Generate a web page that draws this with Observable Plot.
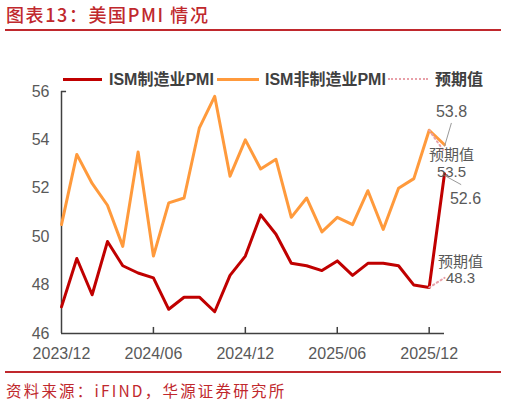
<!DOCTYPE html>
<html>
<head>
<meta charset="utf-8">
<script src="https://cdn.jsdelivr.net/npm/d3@7"></script>
<script src="https://cdn.jsdelivr.net/npm/@observablehq/plot@0.6"></script>
<style>
  html, body { margin: 0; padding: 0; background: #fff; }
  #wrap { position: relative; width: 506px; height: 406px; overflow: hidden;
          font-family: "Liberation Sans", Arial, "Noto Sans CJK SC", sans-serif; }
  #title { position: absolute; left: 6px; top: 3px; font-family: "Noto Sans CJK SC", sans-serif;
           font-size: 18px; font-weight: 500; color: #c0282d; letter-spacing: 1.6px; white-space: nowrap; line-height: 22px; }
  #tline { position: absolute; left: 5px; width: 496px; top: 29px; height: 2px; background: #c0282d; }
  #bline { position: absolute; left: 5px; width: 496px; top: 371px; height: 2px; background: #c0282d; }
  #foot { position: absolute; left: 6px; top: 380px; font-family: "Noto Sans CJK SC", sans-serif;
          font-size: 15.5px; color: #c0282d; letter-spacing: 2.2px; white-space: nowrap; line-height: 20px; }
  #chart { position: absolute; left: 0; top: 35px; }
  .lg { position: absolute; top: 70px; font-size: 16px; font-weight: bold; color: #404040; white-space: nowrap; line-height: 20px; }
  .sw { position: absolute; height: 0; }
</style>
</head>
<body>
<div id="wrap">
  <div id="title">图表13：美国PMI 情况</div>
  <div id="tline"></div>
  <div id="chart"></div>
  <div class="sw" style="left:63px;width:39px;top:78px;border-top:3px solid #c00000;"></div>
  <div class="lg" style="left:109px;">ISM制造业PMI</div>
  <div class="sw" style="left:217px;width:42px;top:78px;border-top:3px solid #ff9a3c;"></div>
  <div class="lg" style="left:265px;">ISM非制造业PMI</div>
  <div class="sw" style="left:388px;width:40px;top:78px;border-top:2px dotted #e8a0a8;"></div>
  <div class="lg" style="left:435px;">预期值</div>
  <div id="bline"></div>
  <div id="foot">资料来源：iFIND，华源证券研究所</div>
</div>
<script>
// Months from 2023/12 to 2026/01
const months = ["2023/12","2024/01","2024/02","2024/03","2024/04","2024/05","2024/06","2024/07","2024/08","2024/09","2024/10","2024/11","2024/12",
                "2025/01","2025/02","2025/03","2025/04","2025/05","2025/06","2025/07","2025/08","2025/09","2025/10","2025/11","2025/12","2026/01"];
const mfg = [47.1,49.1,47.6,49.8,48.8,48.5,48.3,47.0,47.5,47.5,46.9,48.4,49.2,
             50.9,50.1,48.9,48.8,48.6,49.0,48.4,48.9,48.9,48.8,48.0,47.9,52.6];
const services = [50.5,53.4,52.2,51.3,49.6,53.5,49.2,51.4,51.6,54.5,55.8,52.5,54.0,
                  52.8,53.2,50.8,51.6,50.2,50.8,50.5,51.9,50.3,52.0,52.4,54.4,53.8];
const mfgForecast = 48.3;
const servicesForecast = 53.5;
const tickLabels = ["2023/12","2024/06","2024/12","2025/06","2025/12"];
const yTicks = [46,48,50,52,54,56];

const mfgData = mfg.map((v, i) => ({i, v}));
const svcData = services.map((v, i) => ({i, v}));
const last = months.length - 1;
const mfgFc = [{i: last - 1, v: mfg[last - 1]}, {i: last, v: mfgForecast}];
const svcFc = [{i: last - 1, v: services[last - 1]}, {i: last, v: servicesForecast}];
const tickIdx = tickLabels.map(l => months.indexOf(l));

const font = '"Liberation Sans", Arial, "Noto Sans CJK SC", sans-serif';
const gray = "#595959";
const axisColor = "#404040";

const plot = Plot.plot({
  width: 506,
  height: 333,
  marginTop: 56,
  marginBottom: 35,
  marginLeft: 61,
  marginRight: 62,
  style: {fontFamily: font, fontSize: "16px", color: gray, background: "transparent"},
  x: {type: "linear", domain: [0, last], axis: null},
  y: {domain: [46, 56], axis: null},
  marks: [
    Plot.axisY({ticks: yTicks, tickSize: 0, tickPadding: 12, fontSize: 16, fill: gray, label: null}),
    Plot.axisX({ticks: tickIdx, tickFormat: i => months[i], tickSize: 0, tickPadding: 14, fontSize: 16, fill: gray, label: null}),
    Plot.ruleY([46], {x1: 0, x2: last, stroke: axisColor, strokeWidth: 1.5}),
    Plot.ruleX([0], {y1: 46, y2: 56, stroke: axisColor, strokeWidth: 1.5}),
    Plot.ruleY([56], {x1: 0, x2: 0.33, stroke: axisColor, strokeWidth: 1.5}),
    Plot.ruleX(tickIdx.filter(i => i > 0), {y1: 46, y2: 46.25, stroke: axisColor, strokeWidth: 1.5}),
    Plot.line(svcData, {x: "i", y: "v", stroke: "#ff9a3c", strokeWidth: 3, strokeLinejoin: "round"}),
    Plot.line(mfgData, {x: "i", y: "v", stroke: "#c00000", strokeWidth: 3, strokeLinejoin: "round"}),
    Plot.line(svcFc, {x: "i", y: "v", stroke: "#e8a0a8", strokeWidth: 2, strokeDasharray: "1.5,3"}),
    Plot.line(mfgFc, {x: "i", y: "v", stroke: "#e8a0a8", strokeWidth: 2, strokeDasharray: "1.5,3"}),
    // leader lines
    Plot.link([{i: last, v: services[last]}], {x1: "i", y1: d => d.v - 0.07, x2: d => d.i + 0.45, y2: d => d.v + 0.9, stroke: "#999", strokeWidth: 1}),
    Plot.link([{i: last, v: mfg[last]}], {x1: "i", y1: d => d.v - 0.07, x2: d => d.i + 1.09, y2: d => d.v - 0.45, stroke: "#999", strokeWidth: 1}),
    // labels
    Plot.text([{i: last, v: services[last]}], {x: "i", y: "v", text: d => d.v.toFixed(1), dx: 7, dy: -33, fontSize: 16, fill: gray}),
    Plot.text([{i: last, v: mfg[last]}], {x: "i", y: "v", text: d => d.v.toFixed(1), dx: 21, dy: 25, fontSize: 16, fill: gray}),
    Plot.text([{i: last, v: servicesForecast}], {x: "i", y: "v", text: d => "预期值\n" + d.v.toFixed(1), dx: 7, dy: 11, fontSize: 15, lineHeight: 1.1, fill: gray}),
    Plot.text([{i: last, v: mfgForecast}], {x: "i", y: "v", text: d => "预期值\n" + d.v.toFixed(1), dx: 16, dy: -8, fontSize: 15, lineHeight: 1.1, fill: gray})
  ]
});
document.getElementById("chart").appendChild(plot);
</script>
</body>
</html>
